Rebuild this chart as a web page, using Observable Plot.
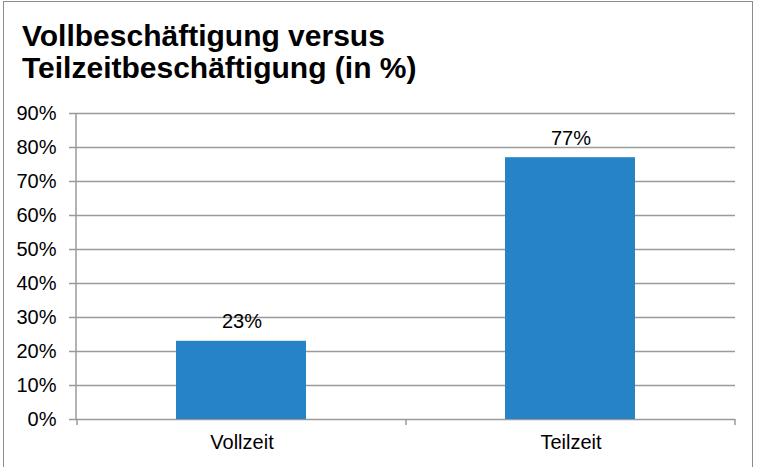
<!DOCTYPE html>
<html>
<head>
<meta charset="utf-8">
<script src="https://cdn.jsdelivr.net/npm/d3@7"></script>
<script src="https://cdn.jsdelivr.net/npm/@observablehq/plot@0.6"></script>
<style>
  html, body { margin: 0; padding: 0; background: #fff; }
  #wrap { position: relative; width: 757px; height: 467px; overflow: hidden; font-family: "Liberation Sans", Arial, sans-serif; }
  #border { position: absolute; left: 3px; top: 1px; width: 750px; height: 470px; border: 1px solid #8c8c8c; box-sizing: border-box; }
  #title { position: absolute; left: 22px; top: 20px; font-size: 30px; line-height: 32px; font-weight: bold; color: #000; }
  #chart { position: absolute; left: 0; top: 100px; }
</style>
</head>
<body>
<div id="wrap">
  <div id="border"></div>
  <div id="title">Vollbeschäftigung versus<br>Teilzeitbeschäftigung (in %)</div>
  <div id="chart"></div>
</div>
<script>
const categories = ["Vollzeit", "Teilzeit"];
const values = [23, 77];
const valueLabels = ["23%", "77%"];
const yTicks = [0, 10, 20, 30, 40, 50, 60, 70, 80, 90];

const data = categories.map((c, i) => ({category: c, value: values[i], label: valueLabels[i]}));

const gridColor = "#9a9a9a";

function boundaryTicks(index, scales, values, dimensions) {
  const {width, height, marginLeft, marginRight, marginBottom, marginTop} = dimensions;
  const y0 = height - marginBottom;
  const xs = categories.map(c => scales.x(c));
  xs.push(width - marginRight);
  const g = d3.create("svg:g").attr("stroke", gridColor).attr("stroke-width", 1.5);
  for (const x of xs) {
    g.append("line").attr("x1", x).attr("x2", x).attr("y1", y0).attr("y2", y0 + 6);
  }
  g.append("line").attr("x1", marginLeft).attr("x2", marginLeft).attr("y1", marginTop).attr("y2", y0);
  return g.node();
}

const chart = Plot.plot({
  width: 757,
  height: 367,
  marginTop: 13,
  marginBottom: 48,
  marginLeft: 76,
  marginRight: 22,
  style: {fontFamily: "'Liberation Sans', Arial, sans-serif", fontSize: "20px", color: "#000", background: "transparent", overflow: "visible"},
  x: {domain: categories, padding: 0, label: null},
  y: {domain: [0, 90], label: null},
  marks: [
    Plot.ruleY(yTicks, {stroke: gridColor, strokeWidth: 1.5}),
    Plot.barY(data, {x: "category", y: "value", fill: "#2683C6", insetLeft: 99, insetRight: 100}),
    Plot.text(data, {x: "category", y: "value", text: "label", lineAnchor: "bottom", dy: -13, fontSize: 20, fill: "#000"}),
    Plot.axisY({ticks: yTicks, tickFormat: d => d + "%", tickSize: 7, tickPadding: 13, stroke: gridColor, strokeWidth: 1.5, label: null, fontSize: 20}),
    Plot.axisX({tickSize: 0, tickPadding: 15, label: null, fontSize: 20}),
    boundaryTicks
  ]
});
document.getElementById("chart").appendChild(chart);
</script>
</body>
</html>
